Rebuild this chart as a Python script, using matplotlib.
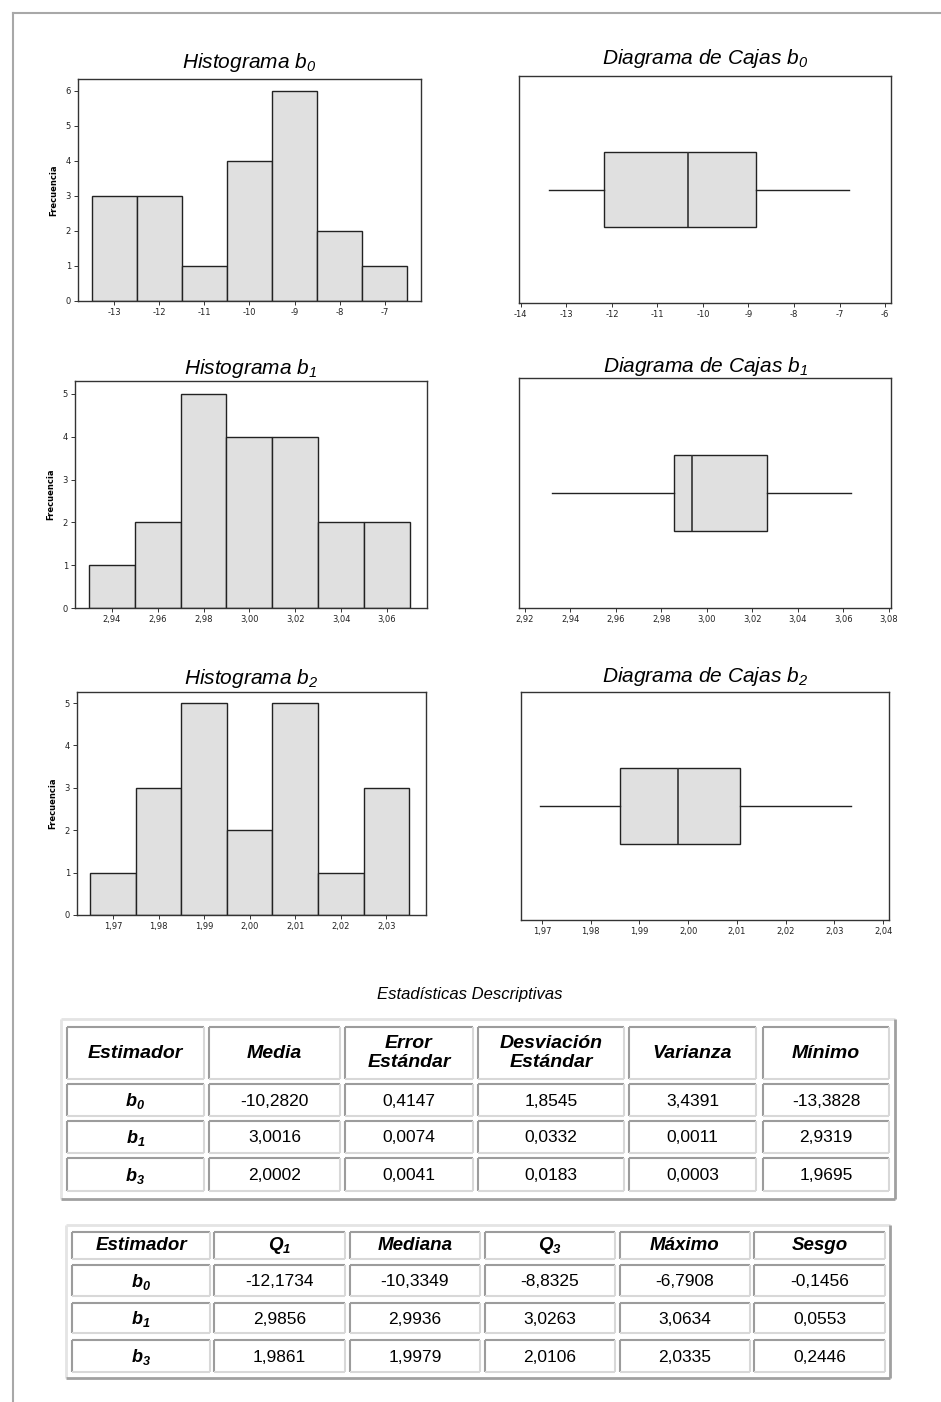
import matplotlib
matplotlib.use("Agg")
import matplotlib.pyplot as plt
from matplotlib.ticker import FuncFormatter, FixedLocator

plt.rcParams["mathtext.fontset"] = "custom"
plt.rcParams["mathtext.rm"] = "Liberation Sans:italic"
plt.rcParams["mathtext.it"] = "Liberation Sans:italic"
plt.rcParams["mathtext.bf"] = "Liberation Sans:bold:italic"

W, H = 941, 1402

# --- datos: histogramas (centro de clase, frecuencia) ---
hist_b0_x = [-13, -12, -11, -10, -9, -8, -7]
hist_b0_n = [3, 3, 1, 4, 6, 2, 1]
hist_b1_x = [2.94, 2.96, 2.98, 3.00, 3.02, 3.04, 3.06]
hist_b1_n = [1, 2, 5, 4, 4, 2, 2]
hist_b2_x = [1.97, 1.98, 1.99, 2.00, 2.01, 2.02, 2.03]
hist_b2_n = [1, 3, 5, 2, 5, 1, 3]

# --- datos: estadisticas descriptivas ---
estimadores = [r"$\mathbf{b_0}$", r"$\mathbf{b_1}$", r"$\mathbf{b_3}$"]
media = [-10.2820, 3.0016, 2.0002]
error_std = [0.4147, 0.0074, 0.0041]
desv_std = [1.8545, 0.0332, 0.0183]
varianza = [3.4391, 0.0011, 0.0003]
minimo = [-13.3828, 2.9319, 1.9695]
q1 = [-12.1734, 2.9856, 1.9861]
mediana = [-10.3349, 2.9936, 1.9979]
q3 = [-8.8325, 3.0263, 2.0106]
maximo = [-6.7908, 3.0634, 2.0335]
sesgo = [-0.1456, 0.0553, 0.2446]

tab1_head = ["Estimador", "Media", "Error\nEstándar", "Desviación\nEstándar", "Varianza", "Mínimo"]
tab2_head = ["Estimador", r"$\mathbf{Q_1}$", "Mediana", r"$\mathbf{Q_3}$", "Máximo", "Sesgo"]

hist_titles = [r"Histograma $b_0$", r"Histograma $b_1$", r"Histograma $b_2$"]
box_titles = [r"Diagrama de Cajas $b_0$", r"Diagrama de Cajas $b_1$", r"Diagrama de Cajas $b_2$"]

hist_x_ticks = [hist_b0_x, hist_b1_x, hist_b2_x]
box_x_ticks = [[-14, -13, -12, -11, -10, -9, -8, -7, -6],
               [2.92, 2.94, 2.96, 2.98, 3.00, 3.02, 3.04, 3.06, 3.08],
               [1.97, 1.98, 1.99, 2.00, 2.01, 2.02, 2.03, 2.04]]

# --- layout (px) ---
hist_box = [(78, 79, 421, 301), (75, 381, 427, 608), (77, 692, 426, 915)]
box_box = [(519, 76, 891, 303), (519, 378, 891, 608), (521, 692, 889, 920)]
hist_xlim = [(-13.81, -6.19), (2.924, 3.0774), (1.9621, 2.0387)]
hist_ylim = [6.34, 5.3, 5.26]
box_xlim = [(-14.04, -5.87), (2.9174, 3.0809), (1.9657, 2.0412)]
hist_title_y = [63, 369, 679]
box_title_y = [59, 366, 676]

fig = plt.figure(figsize=(W / 100, H / 100), dpi=100)


def add_ax(l, t, r, b):
    return fig.add_axes([l / W, 1 - b / H, (r - l) / W, (b - t) / H])


def comma(v, dec):
    return f"{v:.{dec}f}".replace(".", ",")


def style(ax):
    for s in ax.spines.values():
        s.set_linewidth(1.0)
        s.set_color("#333333")
    ax.tick_params(direction="out", length=3, width=0.7, labelsize=6, pad=2,
                   colors="#333333", labelcolor="#222222")


hist_data = [(hist_b0_x, hist_b0_n, 1.0, 0), (hist_b1_x, hist_b1_n, 0.02, 2), (hist_b2_x, hist_b2_n, 0.01, 2)]
for i, (xs, ns, w, dec) in enumerate(hist_data):
    ax = add_ax(*hist_box[i])
    ax.bar(xs, ns, width=w, color="#e0e0e0", edgecolor="#222222", linewidth=1.0)
    ax.set_xlim(*hist_xlim[i]); ax.set_ylim(0, hist_ylim[i])
    ax.xaxis.set_major_locator(FixedLocator(hist_x_ticks[i]))
    ax.xaxis.set_major_formatter(FuncFormatter(lambda v, p, d=dec: comma(v, d)))
    ax.yaxis.set_major_locator(FixedLocator(range(0, max(ns) + 1)))
    style(ax)
    ax.set_ylabel("Frecuencia", fontsize=6, fontweight="bold")
    l, t, r, b = hist_box[i]
    ax.yaxis.set_label_coords(-20 / (r - l), 0.5)

for i in range(3):
    ax = add_ax(*box_box[i])
    st = [dict(med=mediana[i], q1=q1[i], q3=q3[i], whislo=minimo[i], whishi=maximo[i], fliers=[])]
    ax.bxp(st, positions=[0.5], widths=0.33, orientation="horizontal", showcaps=False,
           showfliers=False, patch_artist=True,
           boxprops=dict(facecolor="#e0e0e0", edgecolor="#222222", linewidth=1.0),
           medianprops=dict(color="#333333", linewidth=1.2),
           whiskerprops=dict(color="#222222", linewidth=1.0))
    ax.set_ylim(0, 1); ax.set_xlim(*box_xlim[i])
    ax.set_yticks([])
    ax.xaxis.set_major_locator(FixedLocator(box_x_ticks[i]))
    ax.xaxis.set_major_formatter(FuncFormatter(lambda v, p, d=(0 if i == 0 else 2): comma(v, d)))
    style(ax)

# capa en px para titulos, marco y tablas
ov = fig.add_axes([0, 0, 1, 1])
ov.set_xlim(0, W); ov.set_ylim(H, 0); ov.axis("off")

ov.plot([13, W], [13, 13], color="#a8a8a8", lw=1.5)
ov.plot([13, 13], [13, H], color="#a8a8a8", lw=1.5)

for i in range(3):
    l, t, r, b = hist_box[i]
    ov.text((l + r) / 2, hist_title_y[i], hist_titles[i], fontsize=15, style="italic",
            family="Liberation Sans", ha="center", va="center")
    l, t, r, b = box_box[i]
    ov.text((l + r) / 2, box_title_y[i], box_titles[i], fontsize=15, style="italic",
            family="Liberation Sans", ha="center", va="center")

ov.text(470, 994, "Estadísticas Descriptivas", fontsize=12, style="italic",
        family="Liberation Sans", ha="center", va="center")


def frame(x0, y0, x1, y1, tl, br, lw=1.5):
    ov.plot([x0, x1], [y0, y0], color=tl, lw=lw, solid_capstyle="butt")
    ov.plot([x0, x0], [y0, y1], color=tl, lw=lw, solid_capstyle="butt")
    ov.plot([x0, x1], [y1, y1], color=br, lw=lw, solid_capstyle="butt")
    ov.plot([x1, x1], [y0, y1], color=br, lw=lw, solid_capstyle="butt")


def table(outer, cols, rows, head, body, head_size):
    frame(*outer, "#e4e4e4", "#a0a0a0", lw=2)
    for ri, (y0, y1) in enumerate(rows):
        for ci, (x0, x1) in enumerate(cols):
            frame(x0, y0, x1, y1, "#9c9c9c", "#d8d8d8")
            if ri == 0:
                txt = head[ci]
                ov.text((x0 + x1) / 2, (y0 + y1) / 2, txt, fontsize=head_size, fontweight="bold",
                        style="italic", family="Liberation Sans", ha="center", va="center",
                        linespacing=1.2)
            else:
                txt = estimadores[ri - 1] if ci == 0 else comma(body[ci - 1][ri - 1], 4)
                ov.text((x0 + x1) / 2, (y0 + y1) / 2 + 1, txt,
                        fontsize=13 if ci == 0 else 12.5,
                        family="Liberation Sans", ha="center", va="center")


table((61, 1019, 895, 1199),
      [(67, 204), (209, 340), (345, 473), (478, 624), (629, 756), (763, 889)],
      [(1027, 1079), (1084, 1116), (1121, 1153), (1158, 1191)],
      tab1_head, [media, error_std, desv_std, varianza, minimo], 14)
table((66, 1225, 890, 1378),
      [(72, 210), (214, 345), (350, 480), (485, 615), (620, 750), (754, 885)],
      [(1232, 1259), (1265, 1296), (1303, 1333), (1340, 1372)],
      tab2_head, [q1, mediana, q3, maximo, sesgo], 13.5)

fig.savefig("out.png", dpi=100)
